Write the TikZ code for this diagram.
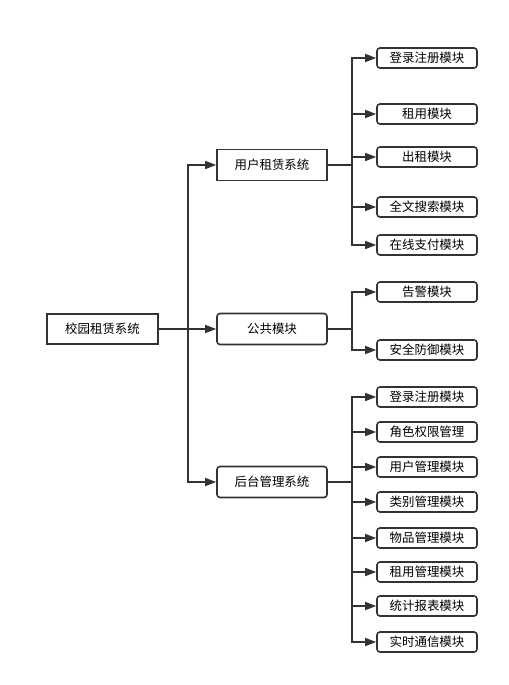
\documentclass[tikz,border=0pt]{standalone}
\usepackage{fontspec}
\setmainfont{Noto Sans CJK SC}
\usepackage{tikz}
\usetikzlibrary{arrows,arrows.meta,shapes}
\definecolor{linegray}{HTML}{333333}

\begin{document}
\begin{tikzpicture}[
  font=\fontsize{12.5}{14}\selectfont,
  rootbox/.style={draw=linegray,line width=1.6bp,minimum width=111bp,minimum height=30bp,inner sep=0pt},
  midbox/.style={draw=linegray,line width=1.6bp,minimum width=110bp,minimum height=31bp,inner sep=0pt},
  leafbox/.style={draw=linegray,line width=1.6bp,rounded corners=3bp,minimum width=100bp,minimum height=20bp,inner sep=0pt},
  link/.style={-{Triangle[length=11bp,width=8bp]},linegray,line width=1.6bp}
]
\useasboundingbox (0bp,0bp) rectangle (509bp,-685bp);

\node (root) at (102.5bp,-329bp)[rootbox] {校园租赁系统};

\node (user) at (272bp,-165bp)[midbox] {用户租赁系统};
\node (pub) at (272bp,-329bp)[midbox,rounded corners=3bp] {公共模块};
\node (back) at (272bp,-482bp)[midbox,rounded corners=3bp] {后台管理系统};

\node (U1) at (427bp,-58bp)[leafbox] {登录注册模块};
\node (U2) at (427bp,-114bp)[leafbox] {租用模块};
\node (U3) at (427bp,-157bp)[leafbox] {出租模块};
\node (U4) at (427bp,-207bp)[leafbox] {全文搜索模块};
\node (U5) at (427bp,-245bp)[leafbox] {在线支付模块};

\node (P1) at (427bp,-292bp)[leafbox] {告警模块};
\node (P2) at (427bp,-350bp)[leafbox] {安全防御模块};

\node (B1) at (427bp,-397bp)[leafbox] {登录注册模块};
\node (B2) at (427bp,-432bp)[leafbox] {角色权限管理};
\node (B3) at (427bp,-467bp)[leafbox] {用户管理模块};
\node (B4) at (427bp,-502bp)[leafbox] {类别管理模块};
\node (B5) at (427bp,-538bp)[leafbox] {物品管理模块};
\node (B6) at (427bp,-572bp)[leafbox] {租用管理模块};
\node (B7) at (427bp,-606bp)[leafbox] {统计报表模块};
\node (B8) at (427bp,-642bp)[leafbox] {实时通信模块};

\coordinate (trunk) at (188bp,-329bp);
\coordinate (UJ) at (352bp,-165bp);
\coordinate (PJ) at (352bp,-329bp);
\coordinate (BJ) at (352bp,-482bp);

\draw [link] (root) -- (pub);
\draw [link] (trunk) |- (user);
\draw [link] (trunk) |- (back);

\draw [link] (user) -- (UJ) |- (U1);
\draw [link] (UJ) |- (U2);
\draw [link] (UJ) |- (U3);
\draw [link] (UJ) |- (U4);
\draw [link] (UJ) |- (U5);

\draw [link] (pub) -- (PJ) |- (P1);
\draw [link] (PJ) |- (P2);

\draw [link] (back) -- (BJ) |- (B1);
\draw [link] (BJ) |- (B2);
\draw [link] (BJ) |- (B3);
\draw [link] (BJ) |- (B4);
\draw [link] (BJ) |- (B5);
\draw [link] (BJ) |- (B6);
\draw [link] (BJ) |- (B7);
\draw [link] (BJ) |- (B8);
\end{tikzpicture}
\end{document}
